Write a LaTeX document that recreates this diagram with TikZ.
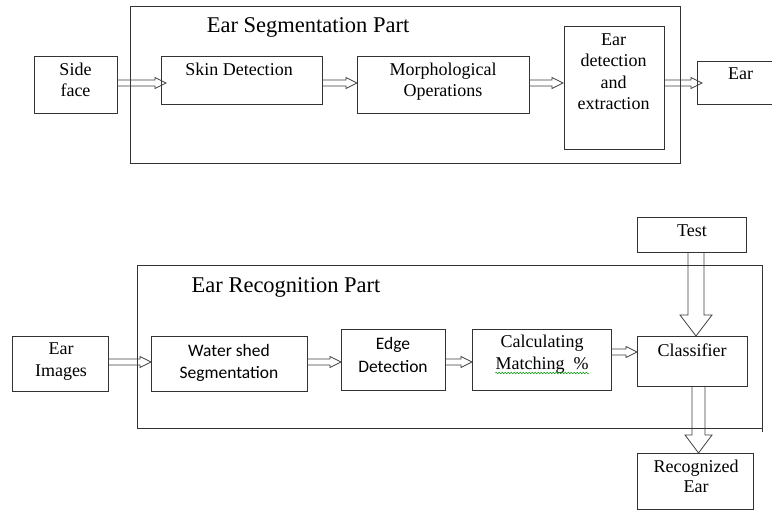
\documentclass[tikz,border=0pt]{standalone}
\usepackage{fontspec}
\setmainfont{Liberation Serif}
\newfontfamily\calfont{Carlito}
\usetikzlibrary{calc,decorations.pathmorphing}
\tikzset{
  box/.style={draw=black!80, line width=0.9pt, inner sep=0pt, outer sep=0pt, anchor=north west},
  txt/.style={inner sep=0pt, anchor=base, font=\fontsize{18}{21}\selectfont},
  stxt/.style={inner sep=0pt, anchor=base, font=\calfont\fontsize{17.5}{22}\selectfont},
  ttl/.style={inner sep=0pt, anchor=base, font=\fontsize{22.5}{25}\selectfont},
  arrline/.style={draw=black!75, line width=0.8pt, line join=miter},
}
% box from corners
\newcommand{\mkbox}[5]{\node[box, minimum width={(#4-#2)*1pt}, minimum height={(#5-#3)*1pt}] (#1) at (#2,#3) {};}
% horizontal hollow arrow: from node #1 east to node #2 west at y=#3, tip offset #4
\newcommand{\harr}[4]{%
  \path (#1.east |- 0,#3) coordinate (hs) (#2.west |- 0,#3) coordinate (ht);
  \path (ht) ++(#4,0) coordinate (ht);
  \draw[arrline] ($(hs)+(0,-3)$) -- ($(ht)+(-11,-3)$) -- ($(ht)+(-11,-5.5)$) -- (ht)
     -- ($(ht)+(-11,5.5)$) -- ($(ht)+(-11,3)$) -- ($(hs)+(0,3)$);}
% vertical hollow arrow: from node #1 south to node #2 north at x=#3
\newcommand{\varr}[6]{%
  \path (#1.south -| #3,0) coordinate (vs) (#2.north -| #3,0) coordinate (vt);
  \draw[arrline] ($(vs)+(-#4,0)$) -- ($(vt)+(-#4,-#6)$) -- ($(vt)+(-#5,-#6)$) -- (vt)
     -- ($(vt)+(#5,-#6)$) -- ($(vt)+(#4,-#6)$) -- ($(vs)+(#4,0)$);}
\begin{document}
\begin{tikzpicture}[x=1pt,y=-1pt]
\clip (0,0) rectangle (772,510);
\useasboundingbox (0,0) rectangle (772,510);
\fill[white] (0,0) rectangle (772,510);

% ---------- top part ----------
\mkbox{seg}{130}{6}{680}{163}
\node[ttl] (segt) at (308,33) {Ear Segmentation Part};
\mkbox{side}{34}{56}{117}{113}
\node[txt] (sidet1) at (75.5,76) {Side};
\node[txt] (sidet2) at (75.5,97) {face};
\mkbox{skin}{161}{56}{322}{104}
\node[txt] (skint) at (239,76) {Skin Detection};
\mkbox{morph}{357}{56}{529}{113}
\node[txt] (morpht1) at (443,76) {Morphological};
\node[txt] (morpht2) at (443,97) {Operations};
\mkbox{det}{564}{26}{664}{149}
\node[txt] (dett1) at (613.5,46) {Ear};
\node[txt] (dett2) at (613.5,67) {detection};
\node[txt] (dett3) at (613.5,89) {and};
\node[txt] (dett4) at (613.5,110) {extraction};
\mkbox{ear}{697}{61}{776}{104}
\node[txt] (eart) at (740.5,80) {Ear};

\harr{side}{skin}{83}{5}
\harr{skin}{morph}{83}{0}
\harr{morph}{det}{83}{-1}
\harr{det}{ear}{83}{5}

% ---------- bottom part ----------
\mkbox{rec}{137}{265}{762}{428}
\draw[draw=black!80, line width=0.9pt] (rec.south east) -- ++(0,4);
\node[ttl] (rect) at (286,293) {Ear Recognition Part};
\mkbox{img}{12}{336}{108}{391}
\node[txt] (imgt1) at (61,355) {Ear};
\node[txt] (imgt2) at (61,377) {Images};
\mkbox{water}{151}{336}{307}{391}
\node[stxt] (watert1) at (229,357) {Water shed};
\node[stxt] (watert2) at (229,379) {Segmentation};
\mkbox{edge}{341}{329}{445}{390}
\node[stxt] (edget1) at (393,350) {Edge};
\node[stxt] (edget2) at (393,373) {Detection};
\mkbox{calc}{472}{329}{611}{390}
\node[txt] (calct1) at (542,348) {Calculating};
\node[txt] (calct2) at (542,370) {Matching~~\%};
\draw[green!60!black, line width=0.5pt, decorate,
  decoration={snake, amplitude=0.8pt, segment length=3pt}]
  ($(calct2.base west)+(0,3)$) -- ($(calct2.base east)+(0,3)$);
\mkbox{cls}{637}{336}{747}{386}
\node[txt] (clst) at (692,357) {Classifier};
\mkbox{test}{637}{217}{746}{252}
\node[txt] (testt) at (692,237) {Test};
\mkbox{recog}{637}{453}{753}{509}
\node[txt] (recogt1) at (696,473) {Recognized};
\node[txt] (recogt2) at (696,493) {Ear};

\harr{img}{water}{362}{0}
\harr{water}{edge}{362}{0}
\harr{edge}{calc}{362}{0}
\harr{calc}{cls}{352}{0}

\varr{test}{cls}{696}{8}{16}{21}
\varr{cls}{recog}{698.5}{6.5}{13.5}{18}
\end{tikzpicture}
\end{document}
